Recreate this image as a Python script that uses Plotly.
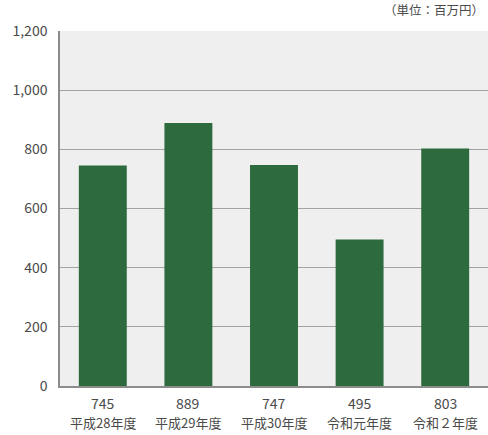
import plotly.graph_objects as go

# 年度別の金額（単位：百万円）
categories = ["平成28年度", "平成29年度", "平成30年度", "令和元年度", "令和２年度"]
values = [745, 889, 747, 495, 803]
y_ticks = [0, 200, 400, 600, 800, 1000, 1200]
y_tick_labels = ["0", "200", "400", "600", "800", "1,000", "1,200"]

FONT = "Noto Sans CJK JP"
TEXT = "#4a4a4a"

fig = go.Figure(
    go.Bar(
        x=categories,
        y=values,
        marker=dict(color="#2d6a3e", line=dict(width=0)),
        hoverinfo="skip",
    )
)

# 各棒の下に金額と年度を2段で表示
annotations = []
for c, v in zip(categories, values):
    annotations.append(dict(
        text=f"{v:,}", xref="x", yref="paper", x=c, y=0, yshift=-17,
        xanchor="center", yanchor="middle", showarrow=False,
        font=dict(family=FONT, size=14, color=TEXT),
    ))
    annotations.append(dict(
        text=c, xref="x", yref="paper", x=c, y=0, yshift=-36,
        xanchor="center", yanchor="middle", showarrow=False,
        font=dict(family=FONT, size=13, color=TEXT),
    ))

annotations.append(dict(
    text="（単位：百万円）",
    xref="paper", yref="paper", x=1.0, y=1.0, yshift=10, xshift=-2,
    xanchor="right", yanchor="bottom", showarrow=False,
    font=dict(family=FONT, size=12.5, color=TEXT),
))

fig.update_layout(
    width=488,
    height=435,
    margin=dict(l=60, r=0, t=31, b=49),
    paper_bgcolor="white",
    plot_bgcolor="#efefef",
    bargap=0.44,
    showlegend=False,
    font=dict(family=FONT, color=TEXT, size=13),
    xaxis=dict(
        showticklabels=False,
        showgrid=False,
        showline=True,
        linecolor="#8c8c8c",
        linewidth=1.5,
        ticks="",
        fixedrange=True,
    ),
    yaxis=dict(
        range=[0, 1200],
        tickmode="array",
        tickvals=y_ticks,
        ticktext=y_tick_labels,
        tickfont=dict(size=14, color=TEXT),
        showgrid=True,
        gridcolor="#a3a3a3",
        gridwidth=1.2,
        zeroline=False,
        showline=True,
        linecolor="#8c8c8c",
        linewidth=1.5,
        ticks="",
        ticklabelstandoff=8,
        fixedrange=True,
    ),
    annotations=annotations,
)

fig.write_html("out.html")
